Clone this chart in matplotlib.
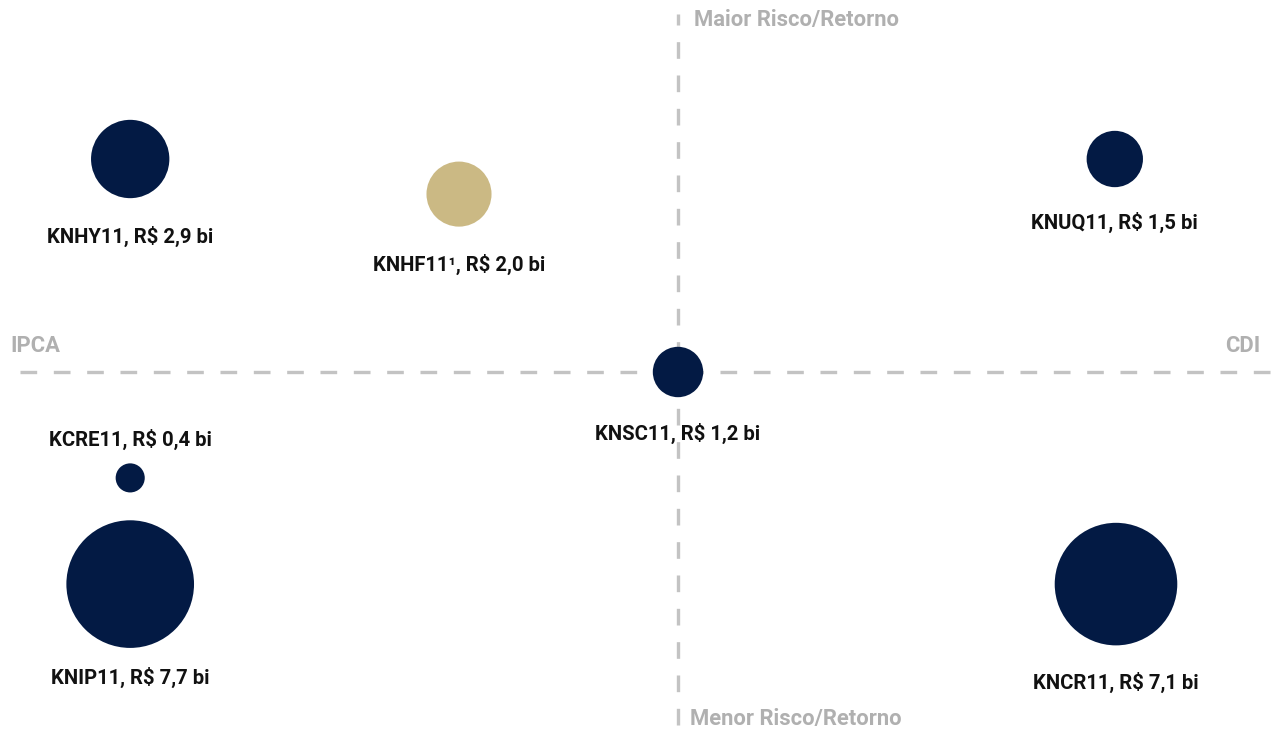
import matplotlib
matplotlib.use("Agg")
import matplotlib.pyplot as plt

# Data
funds = ["KNHY11", "KNHF11¹", "KNUQ11", "KNSC11", "KCRE11", "KNIP11", "KNCR11"]
aum_bi = [2.9, 2.0, 1.5, 1.2, 0.4, 7.7, 7.1]          # R$ bi
index_axis = [-0.913, -0.365, 0.728, 0.0, -0.913, -0.913, 0.73]   # IPCA (-) .. CDI (+)
risk_axis = [0.71, 0.593, 0.71, 0.0, -0.353, -0.707, -0.707]      # Menor (-) .. Maior (+)
colors = ["#031a44", "#cbb984", "#031a44", "#031a44", "#031a44", "#031a44", "#031a44"]
label_above = [False, False, False, False, True, False, False]
label_gap = [38, 38, 35, 36, 24, 30, 37]   # px between bubble edge and label centre

plt.rcParams['font.family'] = ['Roboto', 'DejaVu Sans']

W, H, DPI = 1278, 732, 100
fig = plt.figure(figsize=(W / DPI, H / DPI), dpi=DPI)
ax = fig.add_axes([0, 0, 1, 1])
ax.set_xlim(-678 / 600, 600 / 600)
ax.set_ylim(-360 / 300, 372 / 300)
ax.axis("off")

grey = "#c3c3c3"
ax.plot([-658 / 600, 592 / 600], [0, 0], color=grey, lw=2.4, dashes=(5, 5), zorder=1)
ax.plot([0, 0], [-353 / 300, 358 / 300], color=grey, lw=2.4, dashes=(5, 5), zorder=1)

# bubble area proportional to AUM: radius 23 px * sqrt(value)
px2pt = 72 / DPI
sizes = [(46 * px2pt) ** 2 * v for v in aum_bi]
ax.scatter(index_axis, risk_axis, s=sizes, c=colors, linewidths=0, zorder=3)

for name, v, x, y, above, gap in zip(funds, aum_bi, index_axis, risk_axis, label_above, label_gap):
    r_pt = 23 * (v ** 0.5) * px2pt
    txt = f"{name}, R$ {v:.1f} bi".replace(".", ",")
    off = (r_pt + gap * px2pt) * (1 if above else -1)
    ax.annotate(txt, (x, y), xytext=(0, off), textcoords="offset points",
                ha="center", va="center", fontsize=14.6, fontweight="bold",
                color="#111111", zorder=4)

lab = "#b0b0b0"
gfs = 15.8
ax.text(16 / 600, 352 / 300, "Maior Risco/Retorno", ha="left", va="center",
        fontsize=gfs, fontweight="bold", color=lab)
ax.text(12 / 600, -347 / 300, "Menor Risco/Retorno", ha="left", va="center",
        fontsize=gfs, fontweight="bold", color=lab)
ax.text(-668 / 600, 26 / 300, "IPCA", ha="left", va="center",
        fontsize=gfs, fontweight="bold", color=lab)
ax.text(582 / 600, 26 / 300, "CDI", ha="right", va="center",
        fontsize=gfs, fontweight="bold", color=lab)

fig.savefig("out.png", dpi=DPI)
